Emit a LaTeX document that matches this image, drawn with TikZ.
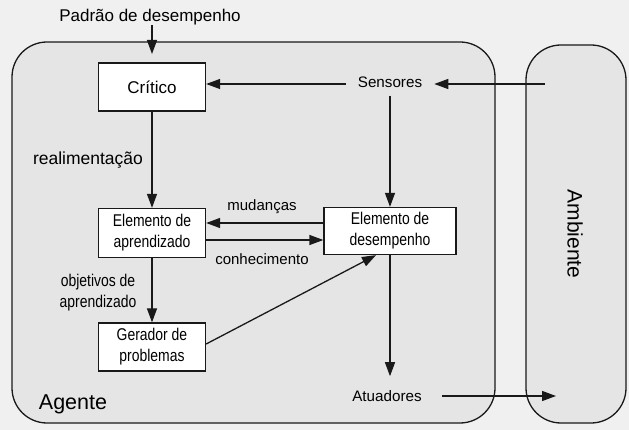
\documentclass[tikz,border=0pt]{standalone}
\usepackage{fontspec}
\setmainfont{Liberation Sans}
\newfontfamily\narrowfont{Liberation Sans}[FakeStretch=0.82]
\usetikzlibrary{arrows.meta}
\newcommand\myfs[1]{\fontsize{#1}{21}\selectfont}
\begin{document}
\begin{tikzpicture}[x=1pt,y=-1pt,
  line/.style={line width=1.3pt, draw=black!90},
  arr/.style={line, -{Triangle[length=14pt,width=10pt]}},
  box/.style={draw=black!90, line width=1.3pt, fill=white, align=center, inner sep=0pt, minimum width=107pt, minimum height=48pt},
  lbl/.style={align=center, inner sep=0pt},
  region/.style={line, fill=black!10, rounded corners=35pt}]
\useasboundingbox (0,0) rectangle (629,430);
\fill[black!6] (0,0) rectangle (629,430);
% containers
\draw[region] (12,42) rectangle (495,423);
\draw[region] (526,45) rectangle (626,423);
\node[font=\myfs{21.5}, inner sep=0pt] (agente) at (73,404) {Agente};
\node[font=\myfs{21}, rotate=-90, inner sep=0pt] (amb) at (575,234) {Ambiente};
% nodes
\node[lbl, font=\myfs{17}] (padrao) at (150,17) {Padrão de desempenho};
\coordinate (padraoEnd) at (152,54);
\node[box, font=\myfs{17}] (critico) at (152,87) {Crítico};
\node[lbl, font=\myfs{15.2}, inner xsep=12pt, inner ysep=8pt] (sens) at (390,82) {Sensores};
\coordinate (ambIn) at (545,84);
\node[box, font=\narrowfont\myfs{17}, minimum height=49pt] (aprend) at (152,233) {Elemento de\\aprendizado};
\node[box, font=\narrowfont\myfs{17}, minimum width=132pt, minimum height=47pt] (desemp) at (390,231) {Elemento de\\desempenho};
\node[box, font=\narrowfont\myfs{17}] (gerador) at (152,347) {Gerador de\\problemas};
\node[lbl, font=\myfs{15.2}, inner xsep=20pt, inner ysep=14pt] (atu) at (387,396) {Atuadores};
\coordinate (ambOut) at (556,396);
\coordinate (mud) at (0,223);
\coordinate (con) at (0,240);
\coordinate (sy) at (0,84);
% connectors
\draw[arr] (critico |- padrao.south) -- (critico |- padraoEnd);
\draw[arr] (ambIn) -- (sens.east |- sy);
\draw[arr] (sens.west |- sy) -- (critico.east |- sy);
\draw[arr] (sens.south) -- (desemp.north);
\draw[arr] (critico.south) -- (aprend.north)
  node[lbl, midway, font=\myfs{17.5}, xshift=-64pt] (realim) {realimentação};
\draw[arr] (desemp.west |- mud) -- (aprend.east |- mud);
\draw[arr] (aprend.east |- con) -- (desemp.west |- con);
\node[lbl, font=\myfs{15}] (lmud) at (262,207) {mudanças};
\node[lbl, font=\myfs{15}] (lcon) at (262,259) {conhecimento};
\draw[arr] (aprend.south) -- (gerador.north);
\node[lbl, font=\narrowfont\myfs{17}] (lobj) at (98,293) {objetivos de\\aprendizado};
\draw[arr] ([yshift=3pt]gerador.east) -- ([xshift=-14pt]desemp.south);
\draw[arr] (desemp.south) -- (desemp.south |- atu.north);
\draw[arr] (atu.east) -- (ambOut);
\end{tikzpicture}
\end{document}
